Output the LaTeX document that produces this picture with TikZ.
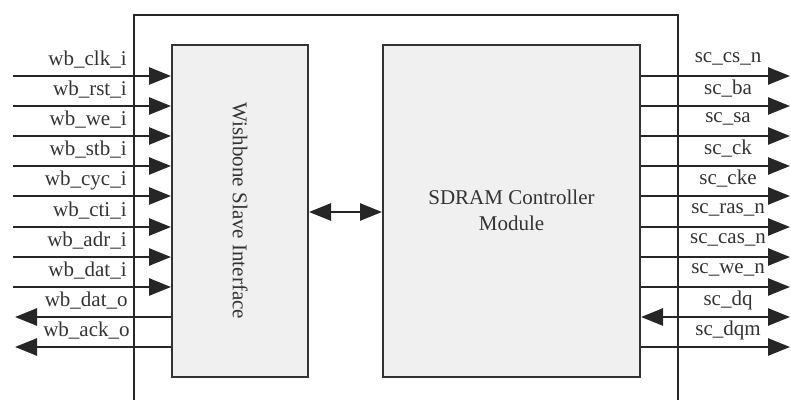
\documentclass[tikz,border=0pt]{standalone}
\usepackage{fontspec}
\setmainfont{Liberation Serif}
\usetikzlibrary{arrows.meta}

\begin{document}
\begin{tikzpicture}[x=0.5pt,y=-0.5pt,
  blk/.style={draw=black!80,line width=1pt,fill=black!6,inner sep=0pt},
  sig/.style={draw=black!85,line width=1.3pt,-{Triangle[length=11pt,width=8.5pt]}},
  lbl/.style={font=\fontsize{10.5}{12}\selectfont,text=black!80,inner sep=0pt}]
\useasboundingbox (0,0) rectangle (791,400);
% outer frame, open at the bottom
\draw [black!85,line width=1pt] (134,400) -- (134,15) -- (678,15) -- (678,400);
% the two blocks
\node [blk,minimum width=68pt,minimum height=166pt] (wb) at (240,211) {};
\node [lbl,rotate=-90] (wbtxt) at (wb.center) {Wishbone Slave Interface};
\node [blk,minimum width=128.5pt,minimum height=166pt] (sd) at (511.5,211) {};
\node [lbl,align=center] (sdtxt) at (511.5,210) {SDRAM Controller\\[1pt]Module};
\coordinate (mid) at (345,212);
\draw [sig,{Triangle[length=11pt,width=8.5pt]}-{Triangle[length=11pt,width=8.5pt]}] (wb.east |- mid) -- (sd.west |- mid);
% wishbone side
\coordinate (clk) at (13,76);
\draw [sig] (clk) -- (wb.west |- clk);
\node [lbl,anchor=east] (clkl) at (127,60) {wb\_clk\_i};
\coordinate (rst) at (13,106);
\draw [sig] (rst) -- (wb.west |- rst);
\node [lbl,anchor=east] (rstl) at (127,90) {wb\_rst\_i};
\coordinate (we) at (13,136);
\draw [sig] (we) -- (wb.west |- we);
\node [lbl,anchor=east] (wel) at (127,120) {wb\_we\_i};
\coordinate (stb) at (13,166);
\draw [sig] (stb) -- (wb.west |- stb);
\node [lbl,anchor=east] (stbl) at (127,150) {wb\_stb\_i};
\coordinate (cyc) at (13,196);
\draw [sig] (cyc) -- (wb.west |- cyc);
\node [lbl,anchor=east] (cycl) at (127,180) {wb\_cyc\_i};
\coordinate (cti) at (13,227);
\draw [sig] (cti) -- (wb.west |- cti);
\node [lbl,anchor=east] (ctil) at (127,211) {wb\_cti\_i};
\coordinate (adr) at (13,257);
\draw [sig] (adr) -- (wb.west |- adr);
\node [lbl,anchor=east] (adrl) at (127,241) {wb\_adr\_i};
\coordinate (dati) at (13,287);
\draw [sig] (dati) -- (wb.west |- dati);
\node [lbl,anchor=east] (datil) at (127,271) {wb\_dat\_i};
\coordinate (dato) at (15,317);
\draw [sig] (wb.west |- dato) -- (dato);
\node [lbl,anchor=east] (datol) at (128,301) {wb\_dat\_o};
\coordinate (ack) at (15,347);
\draw [sig] (wb.west |- ack) -- (ack);
\node [lbl,anchor=east] (ackl) at (130,331) {wb\_ack\_o};
% sdram side
\coordinate (csn) at (790,76);
\draw [sig] (sd.east |- csn) -- (csn);
\node [lbl] (csnl) at (728,59) {sc\_cs\_n};
\coordinate (ba) at (790,106);
\draw [sig] (sd.east |- ba) -- (ba);
\node [lbl] (bal) at (728,89) {sc\_ba};
\coordinate (sa) at (790,136);
\draw [sig] (sd.east |- sa) -- (sa);
\node [lbl] (sal) at (728,119) {sc\_sa};
\coordinate (ck) at (790,166);
\draw [sig] (sd.east |- ck) -- (ck);
\node [lbl] (ckl) at (728,149) {sc\_ck};
\coordinate (cke) at (790,196);
\draw [sig] (sd.east |- cke) -- (cke);
\node [lbl] (ckel) at (728,179) {sc\_cke};
\coordinate (rasn) at (790,227);
\draw [sig] (sd.east |- rasn) -- (rasn);
\node [lbl] (rasnl) at (728,210) {sc\_ras\_n};
\coordinate (casn) at (790,257);
\draw [sig] (sd.east |- casn) -- (casn);
\node [lbl] (casnl) at (728,240) {sc\_cas\_n};
\coordinate (wen) at (790,287);
\draw [sig] (sd.east |- wen) -- (wen);
\node [lbl] (wenl) at (728,270) {sc\_we\_n};
\coordinate (dq) at (790,317);
\draw [sig,{Triangle[length=11pt,width=8.5pt]}-{Triangle[length=11pt,width=8.5pt]}] (sd.east |- dq) -- (dq);
\node [lbl] (dql) at (728,300) {sc\_dq};
\coordinate (dqm) at (790,347);
\draw [sig] (sd.east |- dqm) -- (dqm);
\node [lbl] (dqml) at (728,330) {sc\_dqm};
\end{tikzpicture}
\end{document}
